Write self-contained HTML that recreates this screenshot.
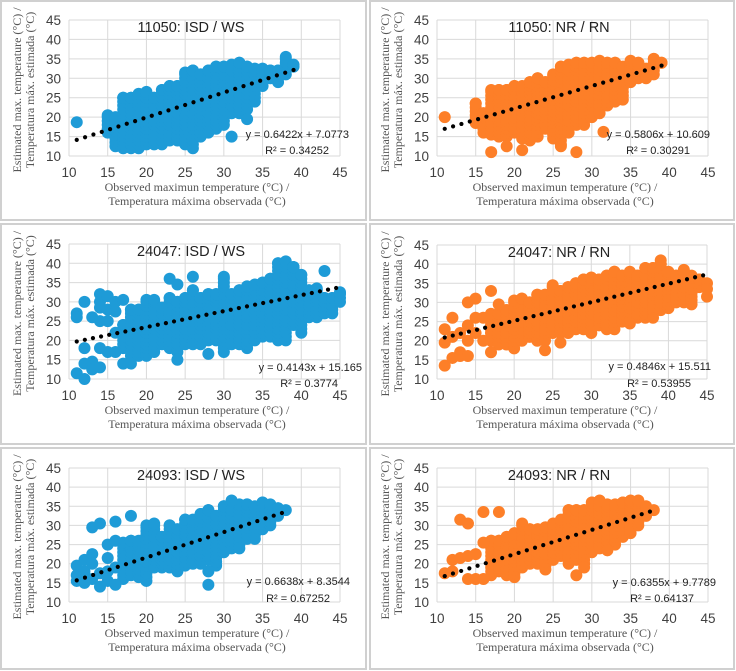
<!DOCTYPE html>
<html><head><meta charset="utf-8">
<style>
html,body{margin:0;padding:0;background:#fff;}
svg{display:block;}
.tk{font-family:"Liberation Sans",sans-serif;font-size:13.5px;fill:#404040;}
.ttl{font-family:"Liberation Sans",sans-serif;font-size:14.5px;fill:#222;}
.eq{font-family:"Liberation Sans",sans-serif;font-size:11px;fill:#222;}
.ax{font-family:"Liberation Serif",serif;font-size:12px;fill:#555;}
</style></head>
<body>
<svg id="chart" width="736" height="671" viewBox="0 0 736 671"></svg>
<script>
// ---- data ----
const panelTitles = ["11050: ISD / WS","11050: NR / RN","24047: ISD / WS","24047: NR / RN","24093: ISD / WS","24093: NR / RN"];
const slopes = [0.6422,0.5806,0.4143,0.4846,0.6638,0.6355];
const intercepts = [7.0773,10.609,15.165,15.511,8.3544,9.7789];
const eqLabels = ["y = 0.6422x + 7.0773","y = 0.5806x + 10.609","y = 0.4143x + 15.165","y = 0.4846x + 15.511","y = 0.6638x + 8.3544","y = 0.6355x + 9.7789"];
const r2Labels = ["R² = 0.34252","R² = 0.30291","R² = 0.3774","R² = 0.53955","R² = 0.67252","R² = 0.64137"];
const trendEnds = [[11,39],[11,39],[11,44.5],[11,44.5],[11,37.5],[11,37.5]];
const xTicks = [10,15,20,25,30,35,40,45];
const yTicks = [10,15,20,25,30,35,40,45];
// column data: observed x, estimated low, estimated high
const p1X=[15,16,17,18,19,20,21,22,23,24,25,26,27,28,29,30,31,32,33,34,35,36,37,38,39];
const p1Lo=[16,12.5,12,12,12,13,13,13,14,14,13,12,15,16,17,18,21,21,22,24,28,30,29,31,33];
const p1Hi=[20.5,20,25,25,26,26.5,25,27,28,28,31.5,32,31,32,33,33,33.5,34,33,32.5,32.5,32,32,35.5,33.5];
const p1Pts=[[11,18.7],[31,15],[33,19.5]];
const p2X=[15,16,17,18,19,20,21,22,23,24,25,26,27,28,29,30,31,32,33,34,35,36,37,38,39];
const p2Lo=[18.5,16,15.5,15,15,16,14.5,14,15,17,14.5,13,16,18,18,20,21,23,24,24.5,29,30,30,31,34];
const p2Hi=[23.5,21,27,27,27,28,28,29,30,29,31,33,33.5,34,34,34,34.5,34,34,33,34.5,34,32.5,35,34];
const p2Pts=[[11,20],[17,11],[19,12.5],[21,11.5],[26,12.5],[28,11],[31.5,16.2]];
const p3X=[17,18,19,20,21,22,23,24,25,26,27,28,29,30,31,32,33,34,35,36,37,38,39,40,41,42,43,44,45];
const p3Lo=[18,16,16,16,17,19,18,17,19,19,19,20,20,17,19,19,18,20,21,21,20,20,24,22,26,26,27,27,30];
const p3Hi=[24,28,28,30.5,30.5,28.5,31,30,31,33,31,32,32,36.5,32,33,34,34.5,35,36,40,40.5,39,37,33,33.5,31,31,32.5];
const p3Pts=[[11,27],[11,26],[11,11.5],[12,30],[12,18],[12,14],[12,10],[13,14.5],[13,12.5],[13,26],[14,32],[14,30],[14,28.5],[14,25],[14,18],[14,13],[15,31.5],[15,28],[15,25],[15,17],[16,30],[16,27.5],[16,22],[16,17],[17,30.5],[17,14],[18,14],[23,36],[24,34.5],[24,15],[26,36.5],[28,16.5],[43,38],[39,39]];
const p4X=[17,18,19,20,21,22,23,24,25,26,27,28,29,30,31,32,33,34,35,36,37,38,39,40,41,42,43,44];
const p4Lo=[20,19,19,18,20,21,20,20,22,22,22,23,23,22,24,23,23,25,24.5,26,26,26,28,28.5,30,30,29.5,34];
const p4Hi=[27,27,28,30.5,31,30,32,32,34.5,33,34,35,36,36.5,36,37,38,37,38,37,39,39,40,38,37,38,37,36];
const p4Pts=[[11,23],[11,19.5],[11,13.5],[12,26],[12,21],[12,15.5],[13,22],[13,17],[13,16],[14,30],[14,24],[14,20],[14,16],[15,31],[15,26],[15,22],[16,26],[16,20],[17,33],[17,17],[18,29.5],[24,17.5],[26,19.5],[39,41],[42,38.5],[45,35],[45,31.5],[45,33.5]];
const p5X=[17,18,19,20,21,22,23,24,25,26,27,28,29,30,31,32,33,34,35,36,37];
const p5Lo=[16,17,16.5,15.5,19,19,19,18,19.5,20,20,21,19.5,23,24,25,26.5,26.5,29,30,32.5];
const p5Hi=[25.5,26,26,30,30.5,27,30,29,31.5,31.5,33,34,32.5,35,34,35.5,35.5,35,36,35.5,34.5];
const p5Pts=[[11,19.5],[11,17],[11,15.5],[12,21],[12,18],[12,15],[13,29.5],[13,22.5],[13,20],[13,16],[14,30.5],[14,17.5],[14,14],[15,25],[15,21.5],[15,18],[15,15.5],[16,31],[16,26],[16,19],[16,14.5],[18,32.5],[28,14.5],[28,18],[31,36.5],[32,24],[38,34]];
const p6X=[17,18,19,20,21,22,23,24,25,26,27,28,29,30,31,32,33,34,35,36,37];
const p6Lo=[17,18,17,16.5,19,20,20,18.5,21,22,20,21,20,23,24,25,25,27,28,30,32.5];
const p6Hi=[26,26,27,28,30.5,29,29,29.5,30.5,31.5,34,34,34,36,35.5,35.5,35.5,36,36.5,36.5,35];
const p6Pts=[[11,17.5],[12,21],[12,18],[13,31.5],[13,21.5],[14,30.5],[14,22],[14,16],[15,22.5],[15,16],[16,33.5],[16,25.5],[16,16],[18,33.5],[28,17],[29,19],[32,23.5],[31,36.5],[38,34]];
const colX=[p1X,p2X,p3X,p4X,p5X,p6X];
const colLo=[p1Lo,p2Lo,p3Lo,p4Lo,p5Lo,p6Lo];
const colHi=[p1Hi,p2Hi,p3Hi,p4Hi,p5Hi,p6Hi];
const extraPts=[p1Pts,p2Pts,p3Pts,p4Pts,p5Pts,p6Pts];

// ---- layout (not data) ----
const NS="http://www.w3.org/2000/svg";
const svg=document.getElementById('chart');
const colors=["#1e9bd7","#fd7f28"];
const boxes=[[1,1,365,219],[370,1,364,219],[1,224,365,220],[370,224,364,220],[1,448,365,221],[370,448,364,221]];
const plots=[[69,340,20,156],[437,708,20,156],[69,340,244,379],[437,707,245,379],[69,340,468,602],[437,708,468,602]];
const eqPos=[[349,138,329,154],[710,138,690,154],[362,371,338,387],[711,370,691,387],[350,585,330,602],[716,586,694,602]];
function mk(tag,attrs,parent){const e=document.createElementNS(NS,tag);for(const k in attrs)e.setAttribute(k,attrs[k]);(parent||svg).appendChild(e);return e;}

for(let p=0;p<6;p++){
  const [x0,x1,yT,yB]=plots[p];
  const sx=v=>x0+(v-10)/35*(x1-x0);
  const sy=v=>yB-(v-10)/35*(yB-yT);
  const g=mk('g',{});
  
  
  const b=boxes[p];
  const fr=mk('rect',{x:b[0],y:b[1],width:b[2],height:b[3],fill:'none',stroke:'#d0d0d0','stroke-width':2},g);
  
  
  xTicks.forEach(t=>{const l=mk('line',{x1:sx(t),x2:sx(t),y1:yT,y2:yB,stroke:'#d9d9d9','stroke-width':1},g);
    
    const tx=mk('text',{x:sx(t),y:yB+21,'text-anchor':'middle',class:'tk'},g);tx.textContent=t;
    });
  yTicks.forEach(t=>{const l=mk('line',{x1:x0,x2:x1,y1:sy(t),y2:sy(t),stroke:'#d9d9d9','stroke-width':1},g);
    
    const tx=mk('text',{x:x0-8,y:sy(t)+5,'text-anchor':'end',class:'tk'},g);tx.textContent=t;
    });
  const col=colors[p%2];
  const xs=colX[p],lo=colLo[p],hi=colHi[p];
  for(let i=0;i<xs.length;i++){
    for(let v=lo[i];v<=hi[i]+0.01;v+=1){
      const c=mk('circle',{cx:sx(xs[i]),cy:sy(Math.min(v,hi[i])),r:6,fill:col},g);
      
    }
    const c=mk('circle',{cx:sx(xs[i]),cy:sy(hi[i]),r:6,fill:col},g);
    
  }
  extraPts[p].forEach(pt=>{const c=mk('circle',{cx:sx(pt[0]),cy:sy(pt[1]),r:6,fill:col},g);
    });
  const [a,bb]=trendEnds[p];
  const n=Math.round((sx(bb)-sx(a))/8.2);
  for(let k=0;k<=n;k++){const xv=a+(bb-a)*k/n;const d=mk('circle',{cx:sx(xv),cy:sy(slopes[p]*xv+intercepts[p]),r:2.1,fill:'#000'},g);
    }
  const t=mk('text',{x:x0+122,y:yT+12,'text-anchor':'middle',class:'ttl'},g);t.textContent=panelTitles[p];
  
  const e=eqPos[p];
  const e1=mk('text',{x:e[0],y:e[1],'text-anchor':'end',class:'eq'},g);e1.textContent=eqLabels[p];
  
  const e2=mk('text',{x:e[2],y:e[3],'text-anchor':'end',class:'eq'},g);e2.textContent=r2Labels[p];
  
  const cx=x0+128;
  const a1=mk('text',{x:cx,y:yB+35,'text-anchor':'middle',class:'ax'},g);a1.textContent='Observed maximun temperature (°C) /';
  
  const a2=mk('text',{x:cx,y:yB+49,'text-anchor':'middle',class:'ax'},g);a2.textContent='Temperatura máxima observada (°C)';
  
  const ycx=(yT+yB)/2+2;
  const y1=mk('text',{x:0,y:0,'text-anchor':'middle',class:'ax',transform:`translate(${x0-48},${ycx}) rotate(-90)`},g);y1.textContent='Estimated max. temperature (°C) /';
  
  const y2=mk('text',{x:0,y:0,'text-anchor':'middle',class:'ax',transform:`translate(${x0-35},${ycx}) rotate(-90)`},g);y2.textContent='Temperatura máx. estimada (°C)';
  
}
</script>
</body></html>
